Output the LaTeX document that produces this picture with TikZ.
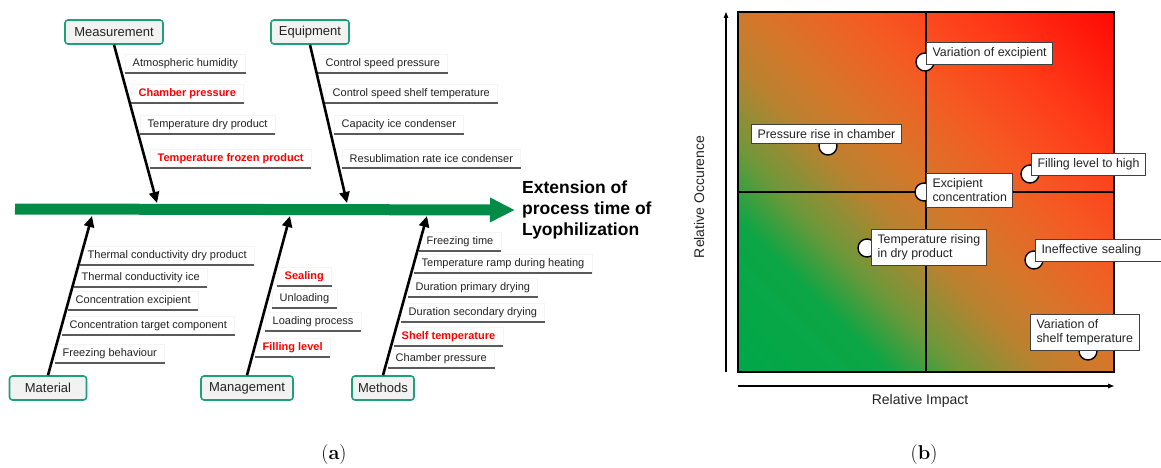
\documentclass[tikz,border=0pt]{standalone}
\usepackage{fontspec}
\setsansfont{Liberation Sans}
\usepackage{tikz}
\usetikzlibrary{positioning, arrows.meta, calc}
\definecolor{spinegreen}{RGB}{0,140,70}
\definecolor{boxgreen}{RGB}{30,160,120}
\definecolor{boxgrey}{RGB}{242,242,242}
\definecolor{critred}{RGB}{255,0,0}
\definecolor{lineink}{RGB}{90,90,90}
\definecolor{ink}{RGB}{35,35,35}
\definecolor{rg0}{RGB}{0,168,72}
\definecolor{rg1}{RGB}{12,166,70}
\definecolor{rg2}{RGB}{110,152,58}
\definecolor{rg3}{RGB}{185,130,48}
\definecolor{rg4}{RGB}{215,118,42}
\definecolor{rg5}{RGB}{245,90,35}
\definecolor{rg6}{RGB}{255,60,25}
\definecolor{rg7}{RGB}{255,10,5}
\pgfdeclarehorizontalshading{riskfade}{100bp}{color(0bp)=(rg0); color(15bp)=(rg0);
  color(29bp)=(rg1); color(36bp)=(rg2); color(44bp)=(rg3); color(51bp)=(rg4);
  color(61bp)=(rg5); color(71bp)=(rg6); color(85bp)=(rg7); color(100bp)=(rg7)}
\tikzset{
  category/.style = {rectangle, rounded corners=3pt, draw=boxgreen, line width=1.6pt,
                     fill=boxgrey, minimum height=24pt, inner sep=0pt, text=ink,
                     font=\sffamily\fontsize{13}{15}\selectfont},
  uline/.style    = {draw=lineink, line width=1.3pt},
  cause/.style    = {rectangle, draw=black!4, fill=white, inner xsep=7.5pt, inner ysep=0pt,
                     minimum height=19pt, anchor=south west, text=ink,
                     font=\sffamily\fontsize{11}{13}\selectfont,
                     append after command={(\tikzlastnode.south west) edge[uline] (\tikzlastnode.south east)}},
  hot/.style      = {text=critred, font=\sffamily\bfseries\fontsize{11}{13}\selectfont},
  bone/.style     = {-{Triangle[length=11pt,width=10pt]}, line width=2.6pt, draw=black},
  spine/.style    = {-{Triangle[length=25pt,width=23pt]}, line width=11pt, draw=spinegreen},
  effect/.style   = {align=left, inner xsep=7pt, anchor=west, text=black,
                     font=\sffamily\bfseries\fontsize{17.5}{21}\selectfont},
  plabel/.style   = {rectangle, draw=black!75, line width=1pt, fill=white, align=left,
                     inner xsep=6pt, inner ysep=5pt, anchor=north west, text=ink,
                     font=\sffamily\fontsize{12.4}{14.5}\selectfont},
  dot/.style      = {circle, draw=black, line width=1.4pt, fill=white, minimum size=18pt, inner sep=0pt},
  axis/.style     = {-{Triangle[length=6pt,width=4.5pt]}, line width=1.2pt, draw=black},
  axislabel/.style= {text=ink, font=\sffamily\fontsize{14}{16}\selectfont},
  caption/.style  = {font=\rmfamily\fontsize{20}{22}\selectfont},
}

\begin{document}
\begin{tikzpicture}[x=1pt, y=-1pt]
  \useasboundingbox (0,0) rectangle (1161,468);

  % ----- (a) fishbone -----
  \coordinate (tail) at (15,209);
  \node[effect] (effect) at (515,210) {Extension of\\process time of\\Lyophilization};
  \draw[spine] (tail) -- (effect.west);

  \node[category, minimum width=98pt] (meas) at (114,32) {Measurement};
  \node[category, minimum width=78pt] (equip) at (310,32) {Equipment};
  \node[category, minimum width=77pt] (mat) at (48,388) {Material};
  \node[category, minimum width=92pt] (mgmt) at (247,388) {Management};
  \node[category, minimum width=62pt] (meth) at (383,388) {Methods};

  % measurement causes
  \node[cause] (m1) at (125,73) {Atmospheric humidity};
  \node[cause, hot] (m2) at (131,103) {Chamber pressure};
  \node[cause] (m3) at (140,134) {Temperature dry product};
  \node[cause, hot] (m4) at (150,168) {Temperature frozen product};

  % equipment causes
  \node[cause] (e1) at (318,73) {Control speed pressure};
  \node[cause] (e2) at (325,103) {Control speed shelf temperature};
  \node[cause] (e3) at (334,134) {Capacity ice condenser};
  \node[cause] (e4) at (342,168) {Resublimation rate ice condenser};

  % material causes
  \node[cause] (a1) at (80,265) {Thermal conductivity dry product};
  \node[cause] (a2) at (74,287) {Thermal conductivity ice};
  \node[cause] (a3) at (68,310) {Concentration excipient};
  \node[cause] (a4) at (62,335) {Concentration target component};
  \node[cause] (a5) at (55,363) {Freezing behaviour};

  % management causes
  \node[cause, hot] (g1) at (277,286) {Sealing};
  \node[cause] (g2) at (272,308) {Unloading};
  \node[cause] (g3) at (265,331) {Loading process};
  \node[cause, hot] (g4) at (255,357) {Filling level};

  % methods causes
  \node[cause] (t1) at (419,251) {Freezing time};
  \node[cause] (t2) at (414,273) {Temperature ramp during heating};
  \node[cause] (t3) at (408,297) {Duration primary drying};
  \node[cause] (t4) at (401,322) {Duration secondary drying};
  \node[cause, hot] (t5) at (394,346) {Shelf temperature};
  \node[cause] (t6) at (388,368) {Chamber pressure};

  % bones on top of the cause boxes
  \coordinate (jmeas) at (157,203);
  \coordinate (jequip) at (347,203);
  \coordinate (jmat) at (92,216);
  \coordinate (jmgmt) at (290,216);
  \coordinate (jmeth) at (427,216);
  \draw[bone] (meas.south) -- (jmeas);
  \draw[bone] (equip.south) -- (jequip);
  \draw[bone] (mat.north) -- (jmat);
  \draw[bone] (mgmt.north) -- (jmgmt);
  \draw[bone] (meth.north) -- (jmeth);

  % ----- (b) risk matrix -----
  \shade[shading=riskfade, shading angle=45] (738,12) rectangle (1114,372);
  \draw[line width=1.3pt] (926,12) -- (926,372);
  \draw[line width=1.3pt] (738,192) -- (1114,192);
  \draw[line width=1.5pt] (738,12) rectangle (1114,372);

  \coordinate (ybot) at (726,372);
  \coordinate (ytop) at (726,12);
  \coordinate (xleft) at (738,386);
  \coordinate (xright) at (1114,386);
  \draw[axis] (ybot) -- (ytop);
  \draw[axis] (xleft) -- (xright);
  \node[axislabel, rotate=90] (occ) at (699,197) {Relative Occurence};
  \node[axislabel] (imp) at (920,401) {Relative Impact};

  \node[dot] (d1) at (925,62) {};
  \node[dot] (d2) at (828,146) {};
  \node[dot] (d3) at (1030,174) {};
  \node[dot] (d4) at (924,192) {};
  \node[dot] (d5) at (867,248) {};
  \node[dot] (d6) at (1034,260) {};
  \node[dot] (d7) at (1088,351) {};

  \node[plabel] (p1) at (926,42) {Variation of excipient};
  \node[plabel] (p2) at (751,124) {Pressure rise in chamber};
  \node[plabel] (p3) at (1031,153) {Filling level to high};
  \node[plabel] (p4) at (926,173) {Excipient\\concentration};
  \node[plabel] (p5) at (871,229) {Temperature rising\\in dry product};
  \node[plabel, text width=118pt] (p6) at (1035,239) {Ineffective sealing};
  \node[plabel] (p7) at (1030,314) {Variation of\\shelf temperature};

  % captions
  \node[caption] (capa) at (334,455) {(\textbf{a})};
  \node[caption] (capb) at (924,455) {(\textbf{b})};
\end{tikzpicture}
\end{document}
